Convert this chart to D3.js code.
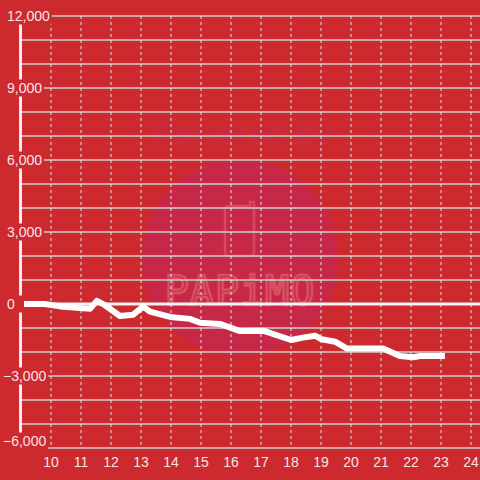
<!DOCTYPE html>
<html><head><meta charset="utf-8">
<script src="https://cdn.jsdelivr.net/npm/d3@7"></script>
<style>html,body{margin:0;padding:0;background:#cc2a2f;}svg{display:block;}</style>
</head><body><svg id="c" width="480" height="480"></svg>
<script>
const hours = [9.0, 9.8, 10.3, 11.3, 11.53, 11.8, 12.3, 12.73, 13.07, 13.3, 13.97, 14.63, 14.97, 15.63, 16.3, 17.07, 18.0, 18.4, 18.8, 19.02, 19.47, 19.85, 21.07, 21.63, 22.07, 22.3, 23.13];
const values = [0, 0, -100, -200, 130, -50, -500, -450, -110, -320, -540, -620, -780, -830, -1130, -1110, -1500, -1400, -1320, -1470, -1570, -1850, -1850, -2170, -2220, -2170, -2170];
const xTicks = [10, 11, 12, 13, 14, 15, 16, 17, 18, 19, 20, 21, 22, 23, 24];
const yLabelTicks = [12000, 9000, 6000, 3000, 0, -3000, -6000];
const yGridTicks = d3.range(-6000, 12001, 1000);

const svg = d3.select("#c");
const bg = "#cc2a2f";
const x = d3.scaleLinear().domain([9, 24]).range([21, 471]);
const y = d3.scaleLinear().domain([-6000, 12000]).range([448, 16]);

svg.append("rect").attr("width", 480).attr("height", 480).attr("fill", bg);

// watermark
const wm = svg.append("g");
wm.append("circle").attr("cx", 240).attr("cy", 258).attr("r", 98).attr("fill", "#c82847");
wm.append("text").attr("x", 243).attr("y", 145).attr("text-anchor", "middle")
  .attr("font-family", "Liberation Sans, Arial, sans-serif").attr("font-weight", "bold").attr("font-style", "italic")
  .attr("font-size", 32).attr("fill", "#c92a40").text("Powered by");
wm.append("path").attr("d", "M229,206 L250,206 L250,202 L254,202 L254,252 Q254,256 250,256 L229,256 Q225,256 225,252 L225,210 Q225,206 229,206 Z")
  .attr("fill", "none").attr("stroke", "#d44a5c").attr("stroke-width", 2.5);
wm.append("text").attr("x", 240).attr("y", 305).attr("text-anchor", "middle")
  .attr("font-family", "DejaVu Sans Mono, monospace").attr("font-size", 40).attr("letter-spacing", 1)
  .attr("fill", "none").attr("stroke", "#d6505f").attr("stroke-width", 2.5).text("PAPiMO");

// horizontal grid
svg.append("g").selectAll("line").data(yGridTicks).join("line")
  .attr("x1", 20).attr("x2", 480).attr("y1", d => y(d)).attr("y2", d => y(d))
  .attr("stroke", "#cfcfcf").attr("stroke-width", 1.5);

// vertical dashed grid
svg.append("g").selectAll("line").data(xTicks).join("line")
  .attr("x1", d => x(d)).attr("x2", d => x(d)).attr("y1", 16).attr("y2", 447)
  .attr("stroke", "#e6e6e6").attr("stroke-width", 1).attr("stroke-dasharray", "3,3");

// y axis line
svg.append("line").attr("x1", 20.5).attr("x2", 20.5).attr("y1", 16).attr("y2", 448)
  .attr("stroke", "#eeeeee").attr("stroke-width", 3);

// zero line
svg.append("line").attr("x1", 17).attr("x2", 480).attr("y1", y(0)).attr("y2", y(0))
  .attr("stroke", "#f4f4f4").attr("stroke-width", 3);

// data line
const line = d3.line().x((d, i) => x(hours[i])).y(d => y(d));
svg.append("path").datum(values).attr("d", line).attr("fill", "none")
  .attr("stroke", "#ffffff").attr("stroke-width", 6).attr("stroke-linejoin", "round").attr("stroke-linecap", "butt");

// y labels with background boxes
const fmt = d3.format(",");
const yl = svg.append("g");
yLabelTicks.forEach((v, i) => {
  const g = yl.append("g");
  const r = g.append("rect").attr("fill", bg);
  const yy = Math.min(y(v), 441);
  const t = g.append("text").attr("y", yy).attr("dy", "0.35em")
    .attr("font-family", "Liberation Sans, Arial, sans-serif").attr("font-size", 14)
    .attr("fill", "#f6e4e4").text(fmt(v));
  const x0 = v < 0 ? 3 : 7;
  t.attr("x", x0);
  const w = t.node().getComputedTextLength();
  r.attr("x", x0 - 2).attr("y", yy - 8.5).attr("width", Math.max(w + 4, 19)).attr("height", 17);
});

// x labels
svg.append("g").selectAll("text").data(xTicks).join("text")
  .attr("x", d => x(d)).attr("y", 462).attr("dy", "0.35em").attr("text-anchor", "middle")
  .attr("font-family", "Liberation Sans, Arial, sans-serif").attr("font-size", 14)
  .attr("fill", "#f6e4e4").text(d => d);
</script></body></html>
